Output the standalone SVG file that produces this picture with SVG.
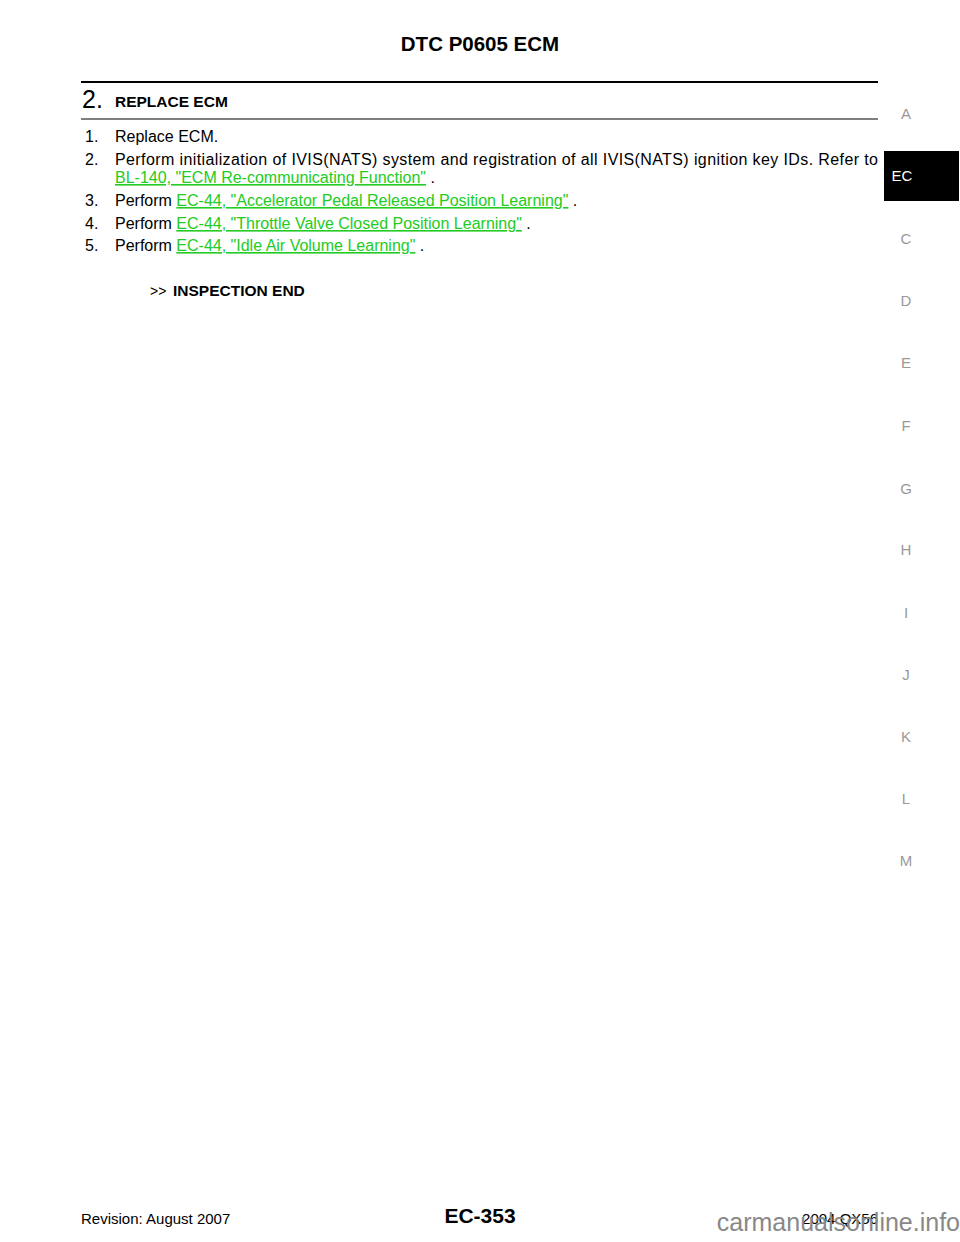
<svg xmlns="http://www.w3.org/2000/svg" width="960" height="1242" viewBox="0 0 960 1242">
<style>
text{font-family:"Liberation Sans",Arial,sans-serif;fill:#000}
.b{font-weight:bold}
.t{font-size:16px}
.l{fill:#22cc22;text-decoration:underline}
.s{font-size:15px;fill:#999}
</style>
<rect width="960" height="1242" fill="#fff"/>
<text x="480" y="51" class="b" font-size="20.5" text-anchor="middle">DTC P0605 ECM</text>
<line x1="81" y1="82" x2="878" y2="82" stroke="#000" stroke-width="2.2"/>
<text x="82" y="108" font-size="25">2.</text>
<text x="115" y="107" class="b" font-size="15.5">REPLACE ECM</text>
<line x1="81" y1="119" x2="878" y2="119" stroke="#000" stroke-width="1.2"/>
<g id="steps">
<text x="85" y="142" class="t">1.</text><text x="115" y="142" class="t">Replace ECM.</text>
<text x="85" y="165" class="t">2.</text><text x="115" y="165" class="t" textLength="763" lengthAdjust="spacing">Perform initialization of IVIS(NATS) system and registration of all IVIS(NATS) ignition key IDs. Refer to</text>
<text x="115" y="183" class="t"><tspan class="l">BL-140, "ECM Re-communicating Function"</tspan>  .</text>
<text x="85" y="206" class="t">3.</text><text x="115" y="206" class="t">Perform <tspan class="l">EC-44, "Accelerator Pedal Released Position Learning"</tspan>  .</text>
<text x="85" y="229" class="t">4.</text><text x="115" y="229" class="t">Perform <tspan class="l">EC-44, "Throttle Valve Closed Position Learning"</tspan>  .</text>
<text x="85" y="251" class="t">5.</text><text x="115" y="251" class="t">Perform <tspan class="l">EC-44, "Idle Air Volume Learning"</tspan>  .</text>
</g>
<text x="150" y="296" font-size="14">&gt;&gt;</text>
<text x="173" y="296" class="b" font-size="15.5">INSPECTION END</text>
<g id="tabs" text-anchor="middle">
<text x="906" y="119" class="s">A</text>
<rect x="884" y="151" width="75" height="50" fill="#000"/>
<text x="902" y="181" font-size="15" style="fill:#fff">EC</text>
<text x="906" y="244" class="s">C</text>
<text x="906" y="306" class="s">D</text>
<text x="906" y="368" class="s">E</text>
<text x="906" y="431" class="s">F</text>
<text x="906" y="494" class="s">G</text>
<text x="906" y="555" class="s">H</text>
<text x="906" y="618" class="s">I</text>
<text x="906" y="680" class="s">J</text>
<text x="906" y="742" class="s">K</text>
<text x="906" y="804" class="s">L</text>
<text x="906" y="866" class="s">M</text>
</g>
<text x="81" y="1224" font-size="15">Revision: August 2007</text>
<text x="480" y="1223" class="b" font-size="21" text-anchor="middle">EC-353</text>
<text x="878" y="1224" font-size="15" text-anchor="end">2004 QX56</text>
<text x="960" y="1231" font-size="25" text-anchor="end" style="fill:#888">carmanualsonline.info</text>
</svg>
